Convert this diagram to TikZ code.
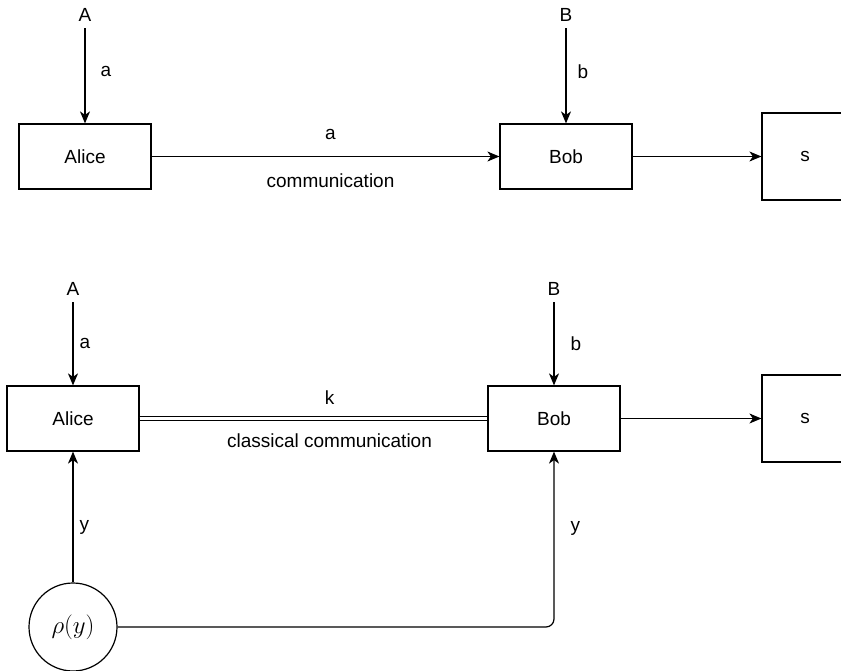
\documentclass[tikz,border=0pt]{standalone}
\usepackage[no-math]{fontspec}
\setmainfont{Liberation Sans}
\usetikzlibrary{arrows.meta}

\tikzset{
  party/.style={draw, minimum width=132pt, minimum height=65pt, inner sep=0pt},
  sbox/.style={draw, minimum width=86pt, minimum height=87pt, inner sep=0pt},
  src/.style={draw, circle, minimum size=88pt, inner sep=0pt},
  inp/.style={inner sep=6pt},
  lab/.style={inner sep=2pt},
  sig/.style={-{Stealth[length=12pt,width=10pt,inset=3.5pt]}},
}

\begin{document}
\begin{tikzpicture}[x=1pt,y=-1pt,line width=1.2pt,font=\fontsize{19}{23}\selectfont]
\useasboundingbox (0,0) rectangle (841,671);
\clip (0,0) rectangle (841,671);

% one-way communication
\node[inp] (A1) at (85,15) {A};
\node[inp] (B1) at (566,15) {B};
\node[party] (alice1) at (85,156.5) {Alice};
\node[party] (bob1) at (566,156.5) {Bob};
\node[sbox] (s1) at (805,156.5) {s};

\draw[sig] (A1) -- node[lab,right=13pt,yshift=4pt] {a} (alice1);
\draw[sig] (B1) -- node[lab,right=9pt,yshift=4pt] {b} (bob1);
\draw[sig] (alice1) -- node[lab,above=14pt,xshift=5pt] {a}
  node[lab,below=15pt,xshift=5pt] {communication} (bob1);
\draw[sig] (bob1) -- (s1);

% shared state + classical communication
\node[inp] (A2) at (73,289) {A};
\node[inp] (B2) at (554,289) {B};
\node[party] (alice2) at (73,418.5) {Alice};
\node[party] (bob2) at (554,418.5) {Bob};
\node[sbox] (s2) at (805,418.5) {s};
\node[src] (rho) at (73,627) {\fontsize{23}{27}\selectfont$\rho(y)$};

\draw[sig] (A2) -- node[lab,right=4pt] {a} (alice2);
\draw[sig] (B2) -- node[lab,right=14pt] {b} (bob2);
\draw[double,double distance=3.5pt] (alice2) -- node[lab,above=11.5pt,xshift=16pt] {k}
  node[lab,below=12.5pt,xshift=16pt] {classical communication} (bob2);
\draw[sig] (bob2) -- (s2);
\draw[sig] (rho) -- node[lab,right=4pt,yshift=-10pt] {y} (alice2);
\draw[sig,rounded corners=8pt] (rho) -| node[lab,pos=0.78,right=14pt] {y} (bob2);
\end{tikzpicture}
\end{document}
